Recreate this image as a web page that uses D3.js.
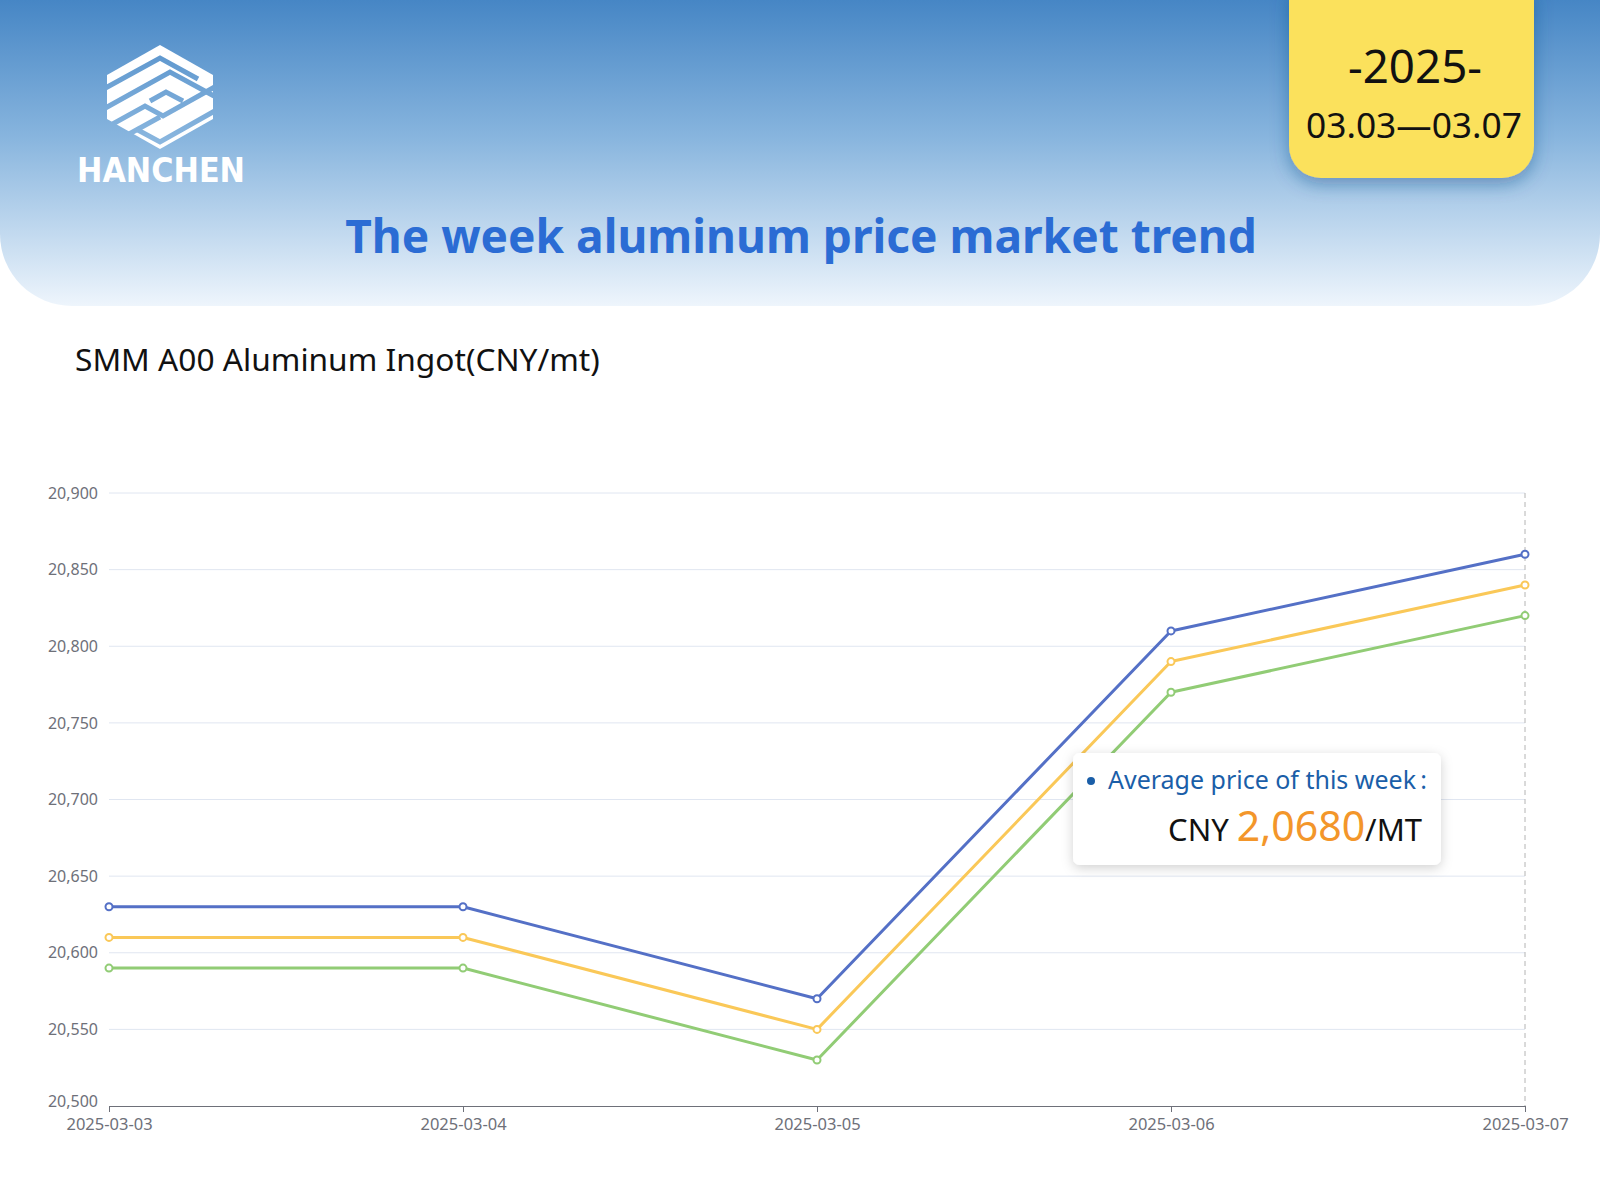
<!DOCTYPE html>
<html>
<head>
<meta charset="utf-8">
<script src="https://cdn.jsdelivr.net/npm/d3@7"></script>
<style>
  body { margin: 0; background: #fff; }
  svg { display: block; }
</style>
</head>
<body>
<script>
'use strict';

// chart data
let dates = ['2025-03-03', '2025-03-04', '2025-03-05', '2025-03-06', '2025-03-07'];
let priceHigh = [20630, 20630, 20570, 20810, 20860];
let priceMid = [20610, 20610, 20550, 20790, 20840];
let priceLow = [20590, 20590, 20530, 20770, 20820];
let yTicks = [20500, 20550, 20600, 20650, 20700, 20750, 20800, 20850, 20900];
let seriesColors = ['#5470c6', '#fac858', '#91cc75'];

let yearText = '-2025-';
let rangeText = '03.03\u201403.07';
let titleText = 'The week aluminum price market trend';
let subTitle = 'SMM A00 Aluminum Ingot(CNY/mt)';
let avgLabel = 'Average price of this week\u2009:';
let avgValue = '2,0680';

let width = 1600;
let height = 1200;
let plot = { left: 109, right: 1525, top: 493, bottom: 1106 };
let font = "'Noto Sans', 'Open Sans', sans-serif";

let svg = '';

window.onload = function() {
    svg = d3.select('body')
        .append('svg')
        .attr('width', width)
        .attr('height', height);

    makeDefs();
    drawHeader();
    drawLogo();
    drawDateBox();
    drawChart();
    drawTooltip();
}

// shrink or grow a text's font so it spans the given width
function fitText(sel, target) {
    let w = sel.node().getComputedTextLength();
    let fs = parseFloat(sel.attr('font-size'));
    sel.attr('font-size', fs * target / w);
}

function makeDefs() {
    let defs = svg.append('defs');

    let grad = defs.append('linearGradient')
        .attr('id', 'headGrad')
        .attr('x1', 0).attr('y1', 0).attr('x2', 0).attr('y2', 1);
    grad.append('stop').attr('offset', '0%').attr('stop-color', '#4686c5');
    grad.append('stop').attr('offset', '45%').attr('stop-color', '#88b5de');
    grad.append('stop').attr('offset', '100%').attr('stop-color', '#eef5fc');

    let sh = defs.append('filter').attr('id', 'boxShadow')
        .attr('x', '-30%').attr('y', '-30%').attr('width', '160%').attr('height', '160%');
    sh.append('feDropShadow')
        .attr('dx', 0).attr('dy', 6).attr('stdDeviation', 9)
        .attr('flood-color', '#1d4f8a').attr('flood-opacity', 0.45);

    let tsh = defs.append('filter').attr('id', 'tipShadow')
        .attr('x', '-20%').attr('y', '-30%').attr('width', '140%').attr('height', '160%');
    tsh.append('feDropShadow')
        .attr('dx', 0).attr('dy', 3).attr('stdDeviation', 6)
        .attr('flood-color', '#000').attr('flood-opacity', 0.18);

    // logo stripes cut out of a hexagon
    let mask = defs.append('mask').attr('id', 'logoMask');
    let hex = [[160, 45], [213, 75], [213, 119], [160, 149], [107, 119], [107, 75]];
    mask.append('polygon')
        .attr('points', hex.map(p => p.join(',')).join(' '))
        .attr('fill', '#fff');
    let gaps = [
        [[100, 91], [160, 58], [198, 79]],
        [[100, 111], [170, 72], [214, 96]],
        [[150, 101], [166, 92], [183, 101]],
        [[100, 131], [145, 106], [163, 116], [220, 84]],
        [[136, 129], [160, 142], [220, 108]],
        [[100, 150], [160, 117]]
    ];
    gaps.forEach(g => {
        mask.append('polyline')
            .attr('points', g.map(p => p.join(',')).join(' '))
            .attr('fill', 'none')
            .attr('stroke', '#000')
            .attr('stroke-width', 5);
    });
}

function drawHeader() {
    let r = 72;
    let b = 306;
    let d = 'M0,0 H' + width + ' V' + (b - r) +
        ' A' + r + ',' + r + ' 0 0 1 ' + (width - r) + ',' + b +
        ' H' + r + ' A' + r + ',' + r + ' 0 0 1 0,' + (b - r) + ' Z';
    svg.append('path')
        .attr('d', d)
        .attr('fill', 'url(#headGrad)');

    let t = svg.append('text')
        .attr('x', 801)
        .attr('y', 253)
        .attr('text-anchor', 'middle')
        .attr('font-family', font)
        .attr('font-weight', 700)
        .attr('font-size', 50)
        .attr('fill', '#2b6cd4')
        .text(titleText);
    fitText(t, 912);

    let s = svg.append('text')
        .attr('x', 75)
        .attr('y', 371)
        .attr('font-family', font)
        .attr('font-size', 31)
        .attr('fill', '#111')
        .text(subTitle);
    fitText(s, 525);
}

function drawLogo() {
    svg.append('rect')
        .attr('x', 100).attr('y', 40)
        .attr('width', 120).attr('height', 115)
        .attr('fill', '#fff')
        .attr('mask', 'url(#logoMask)');

    svg.append('text')
        .attr('x', 77)
        .attr('y', 182)
        .attr('font-family', "'DejaVu Sans', sans-serif")
        .attr('font-weight', 700)
        .attr('font-size', 33)
        .attr('textLength', 168)
        .attr('lengthAdjust', 'spacingAndGlyphs')
        .attr('fill', '#fff')
        .text('HANCHEN');
}

function drawDateBox() {
    let x0 = 1289, x1 = 1534, y1 = 178, r = 32;
    let d = 'M' + x0 + ',-10 H' + x1 + ' V' + (y1 - r) +
        ' A' + r + ',' + r + ' 0 0 1 ' + (x1 - r) + ',' + y1 +
        ' H' + (x0 + r) + ' A' + r + ',' + r + ' 0 0 1 ' + x0 + ',' + (y1 - r) + ' Z';
    svg.append('path')
        .attr('d', d)
        .attr('fill', '#fbe15b')
        .attr('filter', 'url(#boxShadow)');

    let a = svg.append('text')
        .attr('x', 1415).attr('y', 83)
        .attr('text-anchor', 'middle')
        .attr('font-family', font)
        .attr('font-size', 46)
        .attr('fill', '#111')
        .text(yearText);
    fitText(a, 134);

    let b = svg.append('text')
        .attr('x', 1414).attr('y', 138)
        .attr('text-anchor', 'middle')
        .attr('font-family', font)
        .attr('font-size', 35)
        .attr('fill', '#111')
        .text(rangeText);
    fitText(b, 216);
}

function drawChart() {
    let xScale = d3.scalePoint()
        .domain(dates)
        .range([plot.left, plot.right]);

    let yScale = d3.scaleLinear()
        .domain([d3.min(yTicks), d3.max(yTicks)])
        .range([plot.bottom, plot.top]);

    // grid lines
    svg.append('g')
        .selectAll('line')
        .data(yTicks.slice(1))
        .enter()
        .append('line')
            .attr('x1', plot.left)
            .attr('x2', plot.right)
            .attr('y1', d => yScale(d))
            .attr('y2', d => yScale(d))
            .attr('stroke', '#e0e6f1')
            .attr('stroke-width', 1);

    // y axis labels
    let yAxis = d3.axisLeft(yScale)
        .tickValues(yTicks)
        .tickFormat(d3.format(','))
        .tickSize(0)
        .tickPadding(11);
    let gy = svg.append('g')
        .attr('transform', 'translate(' + plot.left + ',0)')
        .call(yAxis);
    gy.select('.domain').remove();
    gy.selectAll('text')
        .attr('font-family', font)
        .attr('font-size', 16)
        .attr('fill', '#6e7079');
    // lowest label sits a touch higher, clear of the date under it
    gy.selectAll('.tick')
        .filter(d => d === yTicks[0])
        .select('text')
        .attr('dy', '0.05em');

    // axis pointer
    svg.append('line')
        .attr('x1', xScale(dates[dates.length - 1]))
        .attr('x2', xScale(dates[dates.length - 1]))
        .attr('y1', plot.top)
        .attr('y2', plot.bottom)
        .attr('stroke', '#b4b4b4')
        .attr('stroke-dasharray', '5,4')
        .attr('stroke-width', 1);

    // x axis
    let xAxis = d3.axisBottom(xScale)
        .tickSize(6)
        .tickSizeOuter(0)
        .tickPadding(6);
    let gx = svg.append('g')
        .attr('transform', 'translate(0,' + plot.bottom + ')')
        .call(xAxis);
    gx.select('.domain').attr('stroke', '#6e7079');
    gx.selectAll('.tick line').attr('stroke', '#6e7079');
    gx.selectAll('text')
        .attr('font-family', font)
        .attr('font-size', 16.5)
        .attr('fill', '#6e7079');

    let series = [priceHigh, priceMid, priceLow];
    let line = d3.line()
        .x((d, i) => xScale(dates[i]))
        .y(d => yScale(d));

    series.forEach((values, k) => {
        svg.append('path')
            .datum(values)
            .attr('d', line)
            .attr('fill', 'none')
            .attr('stroke', seriesColors[k])
            .attr('stroke-width', 3)
            .attr('stroke-linejoin', 'round');

        svg.append('g')
            .selectAll('circle')
            .data(values)
            .enter()
            .append('circle')
                .attr('cx', (d, i) => xScale(dates[i]))
                .attr('cy', d => yScale(d))
                .attr('r', 3.5)
                .attr('fill', '#fff')
                .attr('stroke', seriesColors[k])
                .attr('stroke-width', 2);
    });
}

function drawTooltip() {
    svg.append('rect')
        .attr('x', 1073).attr('y', 753)
        .attr('width', 368).attr('height', 112)
        .attr('rx', 7)
        .attr('fill', '#fff')
        .attr('filter', 'url(#tipShadow)');

    svg.append('circle')
        .attr('cx', 1091).attr('cy', 781)
        .attr('r', 4)
        .attr('fill', '#1a5ea8');

    let t = svg.append('text')
        .attr('x', 1108).attr('y', 789)
        .attr('font-family', font)
        .attr('font-size', 24)
        .attr('fill', '#1a5ea8')
        .text(avgLabel);
    fitText(t, 319);

    let v = svg.append('text')
        .attr('x', 1422).attr('y', 841)
        .attr('text-anchor', 'end')
        .attr('font-family', font)
        .attr('fill', '#111');
    v.append('tspan').attr('font-size', 31).text('CNY ');
    v.append('tspan').attr('font-size', 41).attr('fill', '#f3962a').text(avgValue);
    v.append('tspan').attr('font-size', 31).text('/MT');
}
</script>
</body>
</html>
